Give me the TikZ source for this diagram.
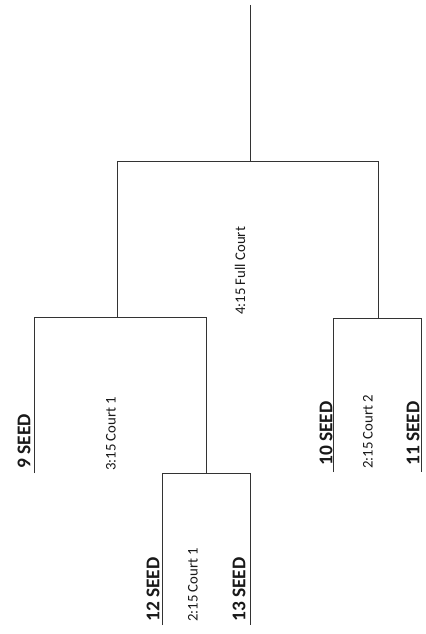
\documentclass[tikz,border=0pt]{standalone}
\usepackage{fontspec}
\setmainfont{Carlito}
\begin{document}
\begin{tikzpicture}[x=1bp,y=-1bp,
  bline/.style={draw=black!80,line width=0.9bp},
  seed/.style={rotate=90,anchor=west,inner sep=0pt,font=\fontsize{19.5}{22}\selectfont\bfseries,text=black!90},
  game/.style={rotate=90,anchor=west,inner sep=0pt,font=\fontsize{14.8}{17}\selectfont,text=black!90}]
\useasboundingbox[fill=white] (0,0) rectangle (425,634);
% coordinates
\coordinate (champ) at (250,5);
\coordinate (fin) at (250,161);
\coordinate (finL) at (117,161);
\coordinate (finR) at (378,161);
\coordinate (sfL) at (117,317);
\coordinate (sfR) at (378,318);
% left semifinal
\coordinate (aL) at (34,317);
\coordinate (aR) at (206,317);
\coordinate (aLb) at (34,473);
\coordinate (aRb) at (206,473);
% bottom game
\coordinate (bL) at (162,473);
\coordinate (bR) at (250,473);
\coordinate (bLb) at (162,625);
\coordinate (bRb) at (250,625);
% right game
\coordinate (cL) at (333,318);
\coordinate (cR) at (421,318);
\coordinate (cLb) at (333,472);
\coordinate (cRb) at (421,472);
% lines
\draw[bline] (champ) -- (fin);
\draw[bline] (sfL) -- (finL) -- (finR) -- (sfR);
\draw[bline] (aLb) -- (aL) -- (aR) -- (aRb);
\draw[bline] (bLb) -- (bL) -- (bR) -- (bRb);
\draw[bline] (cLb) -- (cL) -- (cR) -- (cRb);
% labels
\node[seed] (s9) at (24,469) {9 SEED};
\node[game] (g1) at (111,471) {3:15 Court 1};
\node[seed] (s12) at (153,622) {12 SEED};
\node[game] (g2) at (193,622) {2:15 Court 1};
\node[seed] (s13) at (239,622) {13 SEED};
\node[game] (g3) at (240,315) {4:15 Full Court};
\node[seed] (s10) at (326,466) {10 SEED};
\node[game] (g4) at (368,469) {2:15 Court 2};
\node[seed] (s11) at (413,466) {11 SEED};
\end{tikzpicture}
\end{document}
